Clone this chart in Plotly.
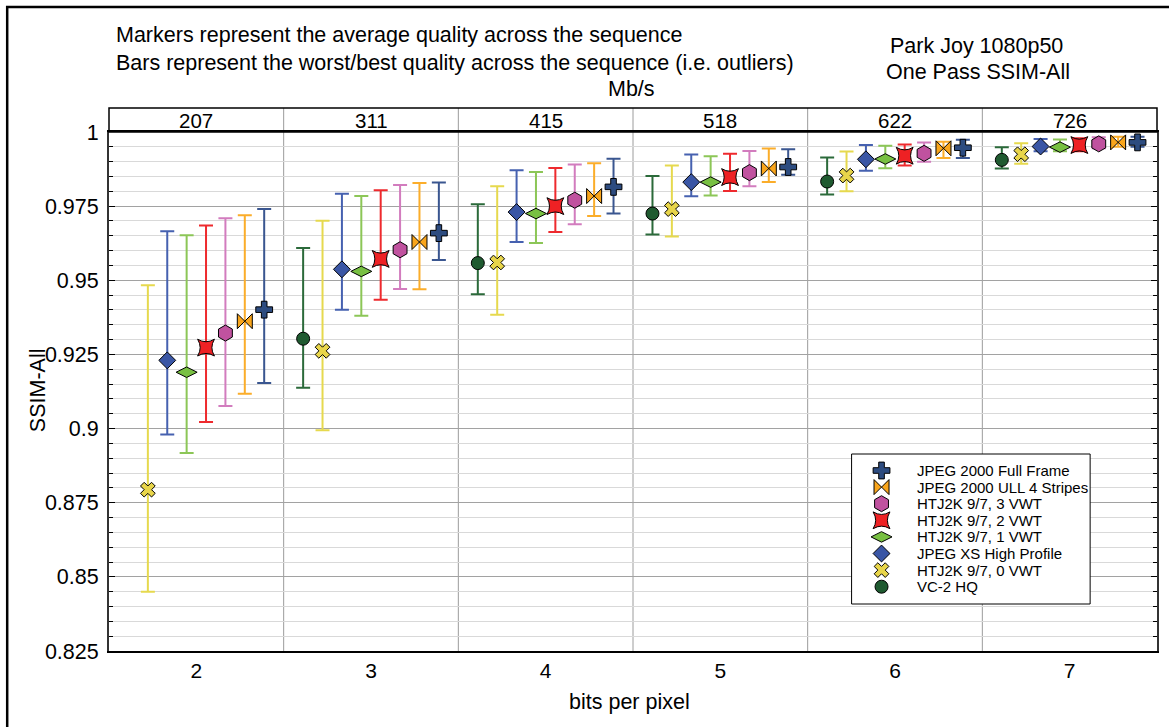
import plotly.graph_objects as go

# ---- data ---------------------------------------------------------------
bpp = [2, 3, 4, 5, 6, 7]
mbps = [207, 311, 415, 518, 622, 726]

vc2_mean = [None, 0.9303, 0.9558, 0.9725, 0.9833, 0.9906]
vc2_min = [None, 0.9138, 0.9453, 0.9654, 0.9789, 0.9877]
vc2_max = [None, 0.9609, 0.9756, 0.9852, 0.9914, 0.9949]

htj2k0_mean = [0.8794, 0.9262, 0.9560, 0.9740, 0.9853, 0.9925]
htj2k0_min = [0.8450, 0.8994, 0.9384, 0.9648, 0.9800, 0.9893]
htj2k0_max = [0.9483, 0.9701, 0.9817, 0.9887, 0.9934, 0.9962]

xs_mean = [0.9230, 0.9537, 0.9730, 0.9831, 0.9908, 0.9951]
xs_min = [0.8980, 0.9401, 0.9629, 0.9783, 0.9869, 0.9935]
xs_max = [0.9665, 0.9792, 0.9871, 0.9924, 0.9956, 0.9976]

htj2k1_mean = [0.9190, 0.9530, 0.9725, 0.9831, 0.9909, 0.9949]
htj2k1_min = [0.8918, 0.9380, 0.9626, 0.9786, 0.9878, 0.9935]
htj2k1_max = [0.9652, 0.9784, 0.9865, 0.9918, 0.9954, 0.9975]

htj2k2_mean = [0.9273, 0.9572, 0.9750, 0.9848, 0.9920, 0.9956]
htj2k2_min = [0.9022, 0.9434, 0.9663, 0.9801, 0.9887, 0.9935]
htj2k2_max = [0.9685, 0.9804, 0.9879, 0.9927, 0.9958, 0.9979]

htj2k3_mean = [0.9322, 0.9603, 0.9770, 0.9863, 0.9928, 0.9960]
htj2k3_min = [0.9076, 0.9471, 0.9689, 0.9817, 0.9900, 0.9945]
htj2k3_max = [0.9709, 0.9821, 0.9890, 0.9936, 0.9965, 0.9982]

ull_mean = [0.9362, 0.9629, 0.9784, 0.9877, 0.9945, 0.9965]
ull_min = [0.9117, 0.9470, 0.9717, 0.9831, 0.9912, 0.9950]
ull_max = [0.9719, 0.9828, 0.9895, 0.9944, 0.9967, 0.9984]

ff_mean = [0.9401, 0.9659, 0.9815, 0.9882, 0.9947, 0.9965]
ff_min = [0.9154, 0.9568, 0.9725, 0.9856, 0.9912, 0.9950]
ff_max = [0.9740, 0.9830, 0.9910, 0.9942, 0.9974, 0.9984]

series_names = [
    "VC-2 HQ",
    "HTJ2K 9/7, 0 VWT",
    "JPEG XS High Profile",
    "HTJ2K 9/7, 1 VWT",
    "HTJ2K 9/7, 2 VWT",
    "HTJ2K 9/7, 3 VWT",
    "JPEG 2000 ULL 4 Stripes",
    "JPEG 2000 Full Frame",
]
series_mean = [vc2_mean, htj2k0_mean, xs_mean, htj2k1_mean,
               htj2k2_mean, htj2k3_mean, ull_mean, ff_mean]
series_min = [vc2_min, htj2k0_min, xs_min, htj2k1_min,
              htj2k2_min, htj2k3_min, ull_min, ff_min]
series_max = [vc2_max, htj2k0_max, xs_max, htj2k1_max,
              htj2k2_max, htj2k3_max, ull_max, ff_max]

# ---- styles ---------------------------------------------------------------
marker_colors = ["#1F5A30", "#E8D54A", "#3A56A5", "#78C042",
                 "#EE2124", "#C0529F", "#F9A51B", "#2D4C80"]
bar_colors = ["#2B6A3A", "#E6D94E", "#4661B0", "#8CC657",
              "#EE2A2E", "#D27CBE", "#FBAD2A", "#3A5690"]
symbols = ["circle", "x", "diamond", "diamond-wide",
           "star-diamond", "hexagon", "bowtie", "cross"]
angles = [0, 0, 0, 0, 45, 0, 0, 0]
sizes = [13, 13, 13, 15, 17, 16, 15, 14]

FONT = "Liberation Sans, Arial, Helvetica, sans-serif"
W, H = 1169, 727
L, R, T, B = 109, 10, 132, 76
PW, PH = W - L - R, H - T - B
X_RANGE = [1.5, 7.5]
Y_RANGE = [0.825, 1.0]
SLOT = 0.111  # horizontal spacing between codecs inside a bpp group


def px_x(px):
    return (px - L) / PW


def px_y(py):
    return (H - B - py) / PH


def data_x(px):
    return X_RANGE[0] + px_x(px) * (X_RANGE[1] - X_RANGE[0])


def data_y(py):
    return Y_RANGE[0] + px_y(py) * (Y_RANGE[1] - Y_RANGE[0])


fig = go.Figure()

n = len(series_names)
for i in range(n):
    xs = [b + (i - (n - 1) / 2) * SLOT for b in bpp]
    mean = series_mean[i]
    plus = [None if m is None else hi - m for m, hi in zip(mean, series_max[i])]
    minus = [None if m is None else m - lo for m, lo in zip(mean, series_min[i])]
    fig.add_trace(go.Scatter(
        x=xs, y=mean, mode="markers", name=series_names[i], showlegend=False,
        marker=dict(symbol=symbols[i], size=sizes[i], color=marker_colors[i],
                    angle=angles[i], opacity=1,
                    line=dict(color="black", width=1)),
        error_y=dict(type="data", symmetric=False, array=plus, arrayminus=minus,
                     color=bar_colors[i], thickness=2, width=7),
        cliponaxis=False,
    ))

# ---- hand-built legend (top entry = last series) --------------------------
leg_left, leg_right, leg_top, leg_bottom = 853, 1092, 454, 604
leg_first, leg_step = 470.5, 16.6
order = list(range(n))[::-1]
leg_x = [data_x(883)] * n
leg_y = [data_y(leg_first + k * leg_step) for k in range(n)]

fig.add_trace(go.Scatter(
    x=leg_x, y=leg_y, mode="markers", showlegend=False, hoverinfo="skip",
    cliponaxis=False,
    marker=dict(symbol=[symbols[i] for i in order],
                angle=[angles[i] for i in order],
                size=[sizes[i] for i in order],
                color=[marker_colors[i] for i in order],
                opacity=1,
                line=dict(color="black", width=1)),
))

annotations = []
for k, i in enumerate(order):
    annotations.append(dict(
        x=data_x(917), y=leg_y[k], xref="x", yref="y",
        text=series_names[i], showarrow=False, xanchor="left", yanchor="middle",
        font=dict(size=15, color="black", family=FONT),
    ))

# ---- header band with bit rates -------------------------------------------
band_top = 1 + 24 / PH
for b, r in zip(bpp, mbps):
    annotations.append(dict(
        x=b, y=1 + 12 / PH, xref="x", yref="paper", text=str(r),
        showarrow=False, xanchor="center", yanchor="middle",
        font=dict(size=20.5, color="black", family=FONT),
    ))


# ---- titles ---------------------------------------------------------------
def text_at(px, py, txt, anchor="left", size=21.5, angle=0):
    annotations.append(dict(
        x=px_x(px), y=px_y(py), xref="paper", yref="paper", text=txt,
        showarrow=False, xanchor=anchor, yanchor="middle", textangle=angle,
        font=dict(size=size, color="black", family=FONT),
    ))


text_at(114, 35, "Markers represent the average quality across the sequence")
text_at(114, 63, "Bars represent the worst/best quality across the sequence (i.e. outliers)")
text_at(632, 89, "Mb/s", anchor="center")
text_at(978, 46, "Park Joy 1080p50", anchor="center")
text_at(980, 72, "One Pass SSIM-All", anchor="center")
text_at(630, 702, "bits per pixel", anchor="center")
text_at(38, 390, "SSIM-All", anchor="center", angle=-90)

# ---- shapes ---------------------------------------------------------------
shapes = []
for b in bpp[:-1]:
    shapes.append(dict(type="line", xref="x", yref="paper", x0=b + 0.5, x1=b + 0.5,
                       y0=0, y1=band_top, line=dict(color="#9C9C9C", width=1),
                       layer="between"))
shapes.append(dict(type="rect", xref="paper", yref="paper", x0=0, x1=1,
                   y0=1, y1=band_top, line=dict(color="black", width=1.5),
                   layer="above"))
shapes.append(dict(type="rect", xref="x", yref="y",
                   x0=data_x(leg_left), x1=data_x(leg_right),
                   y0=data_y(leg_bottom), y1=data_y(leg_top),
                   fillcolor="white", line=dict(color="black", width=1),
                   layer="between"))
# outer frame
shapes.append(dict(type="rect", xref="paper", yref="paper",
                   x0=px_x(7), x1=px_x(W + 20), y0=px_y(H + 20), y1=px_y(7),
                   line=dict(color="black", width=2.5), layer="above"))

yticks = [0.825, 0.85, 0.875, 0.9, 0.925, 0.95, 0.975, 1.0]
yticktext = ["0.825", "0.85", "0.875", "0.9", "0.925", "0.95", "0.975", "1"]

fig.update_layout(
    width=W, height=H,
    margin=dict(l=L, r=R, t=T, b=B, pad=0),
    paper_bgcolor="white", plot_bgcolor="white",
    font=dict(family=FONT, size=21, color="black"),
    showlegend=False,
    annotations=annotations,
    shapes=shapes,
    xaxis=dict(
        range=X_RANGE, tickvals=bpp, ticktext=[str(b) for b in bpp],
        showgrid=False, zeroline=False, ticks="",
        showline=True, linecolor="black", linewidth=2, mirror=True,
        tickfont=dict(size=21), ticklabelstandoff=0,
    ),
    yaxis=dict(
        range=Y_RANGE, tickvals=yticks, ticktext=yticktext,
        showgrid=True, gridcolor="#A2A2A2", gridwidth=1, zeroline=False,
        ticks="inside", ticklen=6, tickcolor="black", tickwidth=1,
        showline=True, linecolor="#333333", linewidth=2, mirror="allticks",
        tickfont=dict(size=21.5), ticklabelstandoff=4,
        minor=dict(dtick=0.005, tick0=0.825, showgrid=True, gridcolor="#D9D9D9",
                   gridwidth=1, ticks="inside", ticklen=4, tickcolor="black"),
    ),
)

fig.write_html("out.html")
